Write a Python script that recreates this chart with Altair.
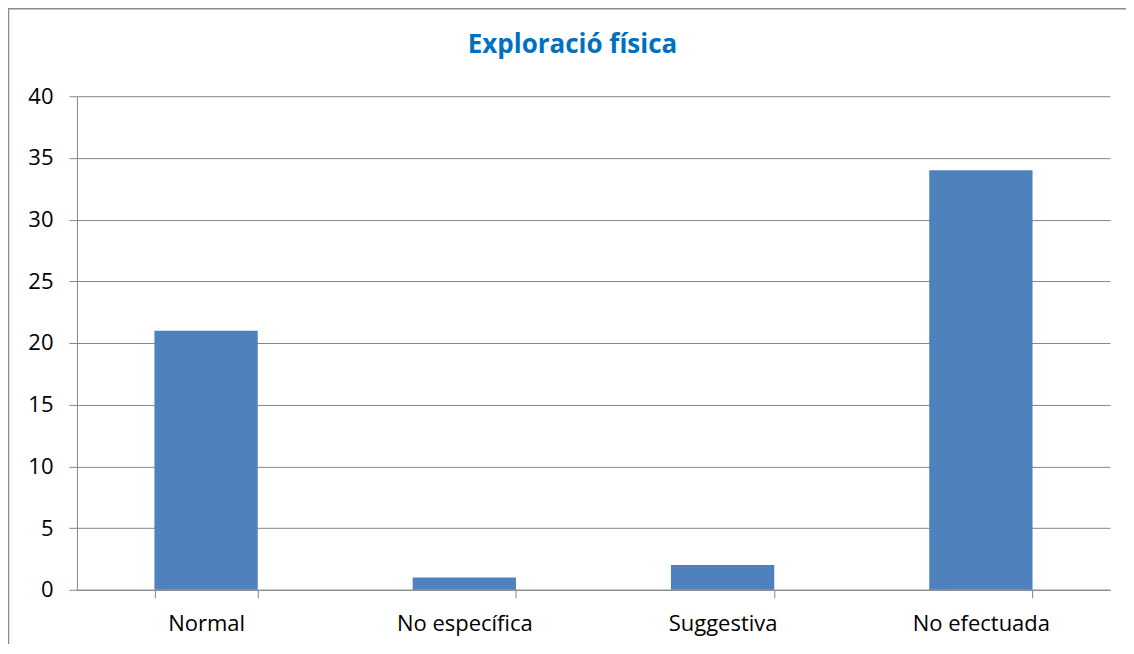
import altair as alt
import pandas as pd

categories = ["Normal", "No específica", "Suggestiva", "No efectuada"]
values = [21, 1, 2, 34]
y_ticks = [0, 5, 10, 15, 20, 25, 30, 35, 40]
title_text = "Exploració física"

df = pd.DataFrame({"cat": categories, "val": values})

FONT = "Open Sans"
GRID = "#868686"

bars = alt.Chart(df).mark_bar(color="#4F81BD").encode(
    x=alt.X("cat:N", sort=categories, title=None,
            scale=alt.Scale(paddingInner=0.6, paddingOuter=0.3),
            axis=alt.Axis(labelAngle=0, tickBand="extent", grid=False,
                          domainColor=GRID, tickColor=GRID, tickSize=8,
                          labelFontSize=22, labelFont=FONT, labelColor="#000000",
                          labelPadding=16)),
    y=alt.Y("val:Q", title=None,
            scale=alt.Scale(domain=[0, 40], nice=False),
            axis=alt.Axis(values=y_ticks, grid=True, gridColor=GRID,
                          domainColor=GRID, tickColor=GRID, tickSize=8,
                          labelFontSize=22, labelFont=FONT, labelColor="#000000",
                          labelPadding=16)),
)

one = alt.Data(values=[{"t": title_text}])
title_mark = alt.Chart(one).mark_text(
    font=FONT, fontSize=26, fontWeight="bold", color="#0070C0",
    align="center", baseline="middle").encode(
    text="t:N", x=alt.value(496), y=alt.value(-51))
top_rule = alt.Chart(one).mark_rule(color="#8c8c8c", strokeWidth=1.5).encode(
    x=alt.value(-69), x2=alt.value(1100), y=alt.value(-87.5))
left_rule = alt.Chart(one).mark_rule(color="#8c8c8c", strokeWidth=1.5).encode(
    x=alt.value(-68.5), y=alt.value(-90), y2=alt.value(600))

chart = alt.layer(bars, title_mark, top_rule, left_rule).properties(
    width=1034, height=494,
    autosize=alt.AutoSizeParams(type="none"),
    padding={"left": 69, "top": 88, "right": 16, "bottom": 54},
).configure_view(stroke=None)

chart.save("out.html", embed_options={"renderer": "svg", "actions": False})
